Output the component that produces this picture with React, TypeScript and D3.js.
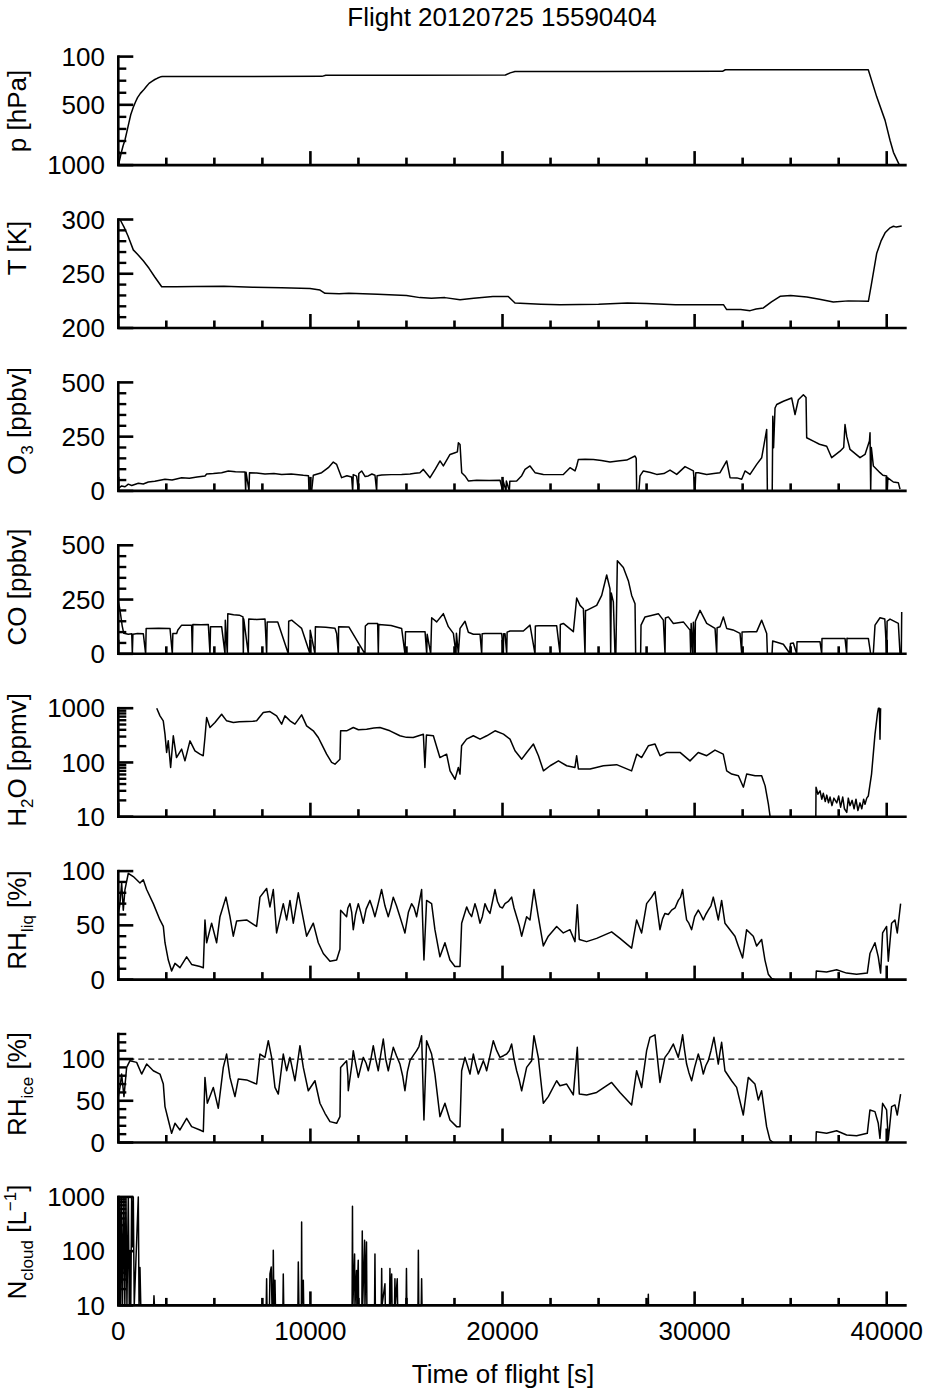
import React from 'react';
import * as d3 from 'd3';

type Pt = [number, number | null];

const W = 929;
const H = 1393;
const X_LEFT = 118.3;
const X_RIGHT = 906.7;
const T_MAX = 41040;
const FONT = '"Liberation Sans", Arial, Helvetica, sans-serif';

const titleText = 'Flight 20120725 15590404';
const xLabelText = 'Time of flight [s]';
const xMajorTicks = [0, 10000, 20000, 30000, 40000];
const xMinorTicks = [2500, 5000, 7500, 12500, 15000, 17500, 22500, 25000, 27500, 32500, 35000, 37500];

// ---- series (time [s], value) ----
const pressure: Pt[] = [
  [0, 1000], [80, 950], [150, 900], [250, 840], [350, 790], [450, 720], [550, 650], [650, 580], [780, 520],
  [900, 475], [1000, 440], [1150, 405], [1300, 380], [1450, 350], [1600, 322], [1750, 305], [1900, 290],
  [2050, 278], [2200, 268], [2300, 265], [6000, 265], [10600, 264], [10800, 255], [15000, 254], [20150, 253],
  [20400, 235], [20650, 224], [25000, 223], [31450, 222], [31600, 209], [39040, 209], [39480, 434],
  [39915, 629], [40175, 796], [40350, 894], [40660, 1000],
];

const temperature: Pt[] = [
  [0, 300], [90, 300], [300, 293], [500, 285], [780, 272], [1000, 268], [1300, 262], [1600, 255], [1900, 247],
  [2260, 238], [3000, 238], [4000, 238.2], [5500, 238.5], [7000, 237.5], [8500, 237], [9980, 236.5],
  [10500, 235], [10760, 232], [11500, 231.5], [12000, 232], [13500, 231], [15000, 230], [15700, 228],
  [16300, 227.5], [17000, 228], [17790, 226], [18500, 227.5], [19500, 229], [20300, 229], [20650, 223],
  [22000, 222], [23000, 221.5], [25000, 222], [26500, 223], [27500, 222.5], [29000, 221.5], [31500, 221.5],
  [31670, 217], [32400, 217], [32890, 216], [33200, 217.5], [33580, 218.5], [34000, 224], [34450, 229.2],
  [35000, 230], [35840, 228.6], [36500, 226.5], [37220, 224], [38000, 225], [39045, 224.6], [39200, 240],
  [39480, 269], [39700, 280], [39915, 287.7], [40150, 292], [40350, 293.8], [40500, 293], [40780, 294],
];

const ozone: Pt[] = [
  [0, 12], [175, 23], [350, 19], [522, 31], [700, 25], [1043, 35], [1300, 32], [1563, 41], [1900, 44],
  [2430, 54], [2800, 50], [3298, 61], [3700, 58], [4100, 64], [4513, 69], [4599, 78], [4950, 80], [5380, 84],
  [5727, 92], [6100, 88], [6595, 87], [6629, 0], [6650, 86], [6803, 0], [6830, 84], [7200, 82], [7636, 78],
  [8100, 80], [8503, 76], [9000, 78], [9631, 72], [9900, 70], [9926, 0], [10000, 0], [10064, 0], [10151, 72],
  [10585, 84], [10932, 107], [11192, 133], [11366, 122], [11626, 61], [11900, 70], [12147, 64], [12199, 0],
  [12230, 75], [12406, 68], [12494, 0], [12520, 80], [12667, 92], [12850, 66], [13014, 69], [13200, 78],
  [13361, 72], [13448, 0], [13470, 70], [13708, 73], [14200, 75], [14749, 76], [15186, 78], [15443, 81],
  [15700, 84], [15880, 99], [16227, 61], [16500, 100], [16748, 138], [16921, 115], [17268, 168], [17528, 176],
  [17650, 180], [17702, 222], [17789, 214], [17876, 84], [18049, 69], [18222, 46], [18656, 49], [19300, 48],
  [19871, 49], [20010, 0], [20030, 47], [20183, 0], [20200, 46], [20356, 0], [20380, 44], [20738, 46],
  [21000, 70], [21172, 99], [21432, 115], [21692, 84], [22126, 76], [22600, 75], [23167, 76], [23514, 107],
  [23774, 92], [23861, 115], [23948, 145], [24300, 146], [24729, 145], [25150, 140], [25596, 133],
  [26000, 138], [26464, 142], [26898, 161], [26960, 150], [26984, 0], [27100, 0], [27158, 69], [27331, 92],
  [27700, 85], [28025, 76], [28400, 80], [28719, 96], [29068, 76], [29501, 112], [29935, 92], [30022, 0],
  [30060, 84], [30195, 84], [30629, 76], [31000, 80], [31323, 84], [31670, 138], [31844, 61], [32200, 60],
  [32451, 54], [32624, 92], [32884, 76], [33232, 122], [33492, 153], [33752, 283], [33787, 0], [34040, 0],
  [34070, 344], [34110, 199], [34186, 382], [34273, 398], [34620, 413], [35053, 428], [35227, 352],
  [35400, 420], [35661, 443], [35800, 430], [35834, 245], [36181, 229], [36500, 215], [36875, 206],
  [37135, 153], [37569, 183], [37760, 200], [37829, 306], [37920, 250], [38090, 191], [38610, 153],
  [38870, 168], [39100, 230], [39131, 268], [39165, 0], [39200, 200], [39304, 115], [39651, 84], [39800, 72],
  [39998, 69], [40030, 0], [40060, 60], [40345, 41], [40605, 38], [40692, 8],
];

const carbonMonoxide: Pt[] = [
  [0, 240], [60, 215], [130, 175], [200, 130], [280, 95], [349, 94], [522, 90], [700, 92], [730, 0], [760, 90],
  [1000, 94], [1303, 92], [1424, 0], [1450, 117], [1563, 117], [2100, 118], [2691, 117], [2812, 0], [2840, 94],
  [3038, 94], [3100, 110], [3298, 132], [3818, 132], [3853, 0], [3880, 135], [4300, 134], [4686, 135],
  [4773, 0], [4800, 125], [5380, 125], [5554, 0], [5570, 155], [5675, 0], [5700, 185], [6000, 180],
  [6300, 178], [6490, 170], [6508, 0], [6530, 160], [6768, 0], [6790, 160], [7200, 158], [7636, 160],
  [7722, 0], [7750, 147], [8300, 147], [8850, 0], [8870, 150], [9024, 155], [9300, 135], [9544, 117],
  [9978, 0], [9990, 109], [10238, 0], [10260, 125], [10800, 122], [11279, 118], [11366, 94], [11453, 0],
  [11470, 125], [12000, 124], [12840, 0], [12860, 128], [13014, 140], [13500, 140], [13535, 0], [13560, 135],
  [14200, 130], [14749, 117], [14923, 0], [14950, 102], [15443, 102], [15967, 102], [16054, 0], [16080, 90],
  [16262, 0], [16314, 166], [16574, 147], [16921, 185], [17181, 125], [17442, 94], [17580, 0], [17600, 95],
  [17702, 0], [17789, 117], [18049, 150], [18222, 99], [18483, 90], [18830, 90], [18916, 0], [18940, 92],
  [19090, 94], [19957, 94], [20044, 0], [20060, 92], [20131, 92], [20218, 0], [20240, 100], [20391, 105],
  [21085, 105], [21432, 132], [21692, 0], [21710, 128], [21866, 129], [22820, 129], [22994, 0], [23010, 135],
  [23167, 140], [23688, 102], [23861, 257], [24035, 223], [24209, 208], [24295, 0], [24320, 200],
  [24382, 200], [24902, 223], [25163, 269], [25423, 363], [25596, 299], [25631, 0], [25660, 280],
  [25770, 239], [25856, 0], [25900, 0], [25978, 429], [26290, 398], [26550, 337], [26724, 269], [26898, 231],
  [26932, 0], [27190, 0], [27210, 132], [27418, 170], [27800, 178], [28112, 185], [28372, 155], [28459, 0],
  [28480, 165], [28633, 170], [28894, 140], [29415, 147], [29762, 109], [29796, 0], [29820, 140],
  [29900, 0], [29935, 145], [30022, 0], [30040, 150], [30282, 200], [30629, 140], [31063, 117], [31150, 0],
  [31170, 120], [31323, 125], [31497, 170], [31670, 117], [32000, 110], [32364, 94], [32451, 0], [32470, 100],
  [32885, 102], [33232, 102], [33492, 155], [33752, 94], [33787, 0], [34030, 0], [34064, 59], [34620, 44],
  [34967, 0], [34990, 48], [35140, 50], [35314, 0], [35330, 56], [35487, 56], [36528, 56], [36615, 0],
  [36630, 70], [36702, 71], [37829, 71], [37916, 0], [37930, 72], [38003, 71], [39044, 71], [39165, 0],
  [39300, 0], [39391, 132], [39651, 166], [39900, 160], [39998, 0], [40020, 150], [40172, 160], [40605, 140],
  [40692, 0], [40760, 0], [40780, 193],
];

const water: Pt[] = [
  [2000, 1000], [2170, 722], [2340, 585], [2430, 332], [2516, 153], [2600, 250], [2724, 81], [2863, 310],
  [3030, 123], [3297, 176], [3470, 107], [3731, 250], [3990, 164], [4251, 142], [4420, 133], [4511, 288],
  [4598, 674], [4772, 441], [5032, 545], [5379, 775], [5639, 585], [5986, 545], [6300, 560], [6680, 568],
  [7000, 575], [7200, 585], [7547, 832], [7894, 868], [8241, 722], [8502, 508], [8675, 722], [8936, 585],
  [9196, 508], [9543, 754], [9803, 473], [10150, 383], [10410, 288], [10584, 218], [10844, 142],
  [11104, 100], [11278, 93], [11538, 115], [11573, 383], [11885, 383], [12232, 441], [12500, 400],
  [12926, 411], [13300, 430], [13620, 441], [14140, 383], [14660, 310], [15000, 290], [15350, 288],
  [15880, 332], [15960, 81], [16040, 320], [16400, 310], [16740, 123], [17090, 142], [17270, 70],
  [17530, 49], [17700, 81], [17786, 61], [17870, 203], [18130, 269], [18480, 310], [18830, 269],
  [19180, 310], [19610, 383], [20050, 332], [20390, 269], [20650, 164], [21000, 115], [21260, 153],
  [21610, 218], [21870, 133], [22130, 70], [22480, 87], [22910, 107], [23340, 87], [23770, 81], [23860, 133],
  [23950, 76], [24560, 76], [25250, 87], [25940, 91], [26720, 70], [26990, 142], [27240, 123], [27590, 203],
  [27940, 218], [28200, 133], [28550, 153], [29240, 153], [29760, 107], [30190, 153], [30630, 133],
  [31060, 169], [31490, 142], [31670, 70], [31930, 61], [32280, 57], [32540, 35], [32710, 61], [33150, 57],
  [33490, 57], [33670, 37], [33840, 17], [33930, 10], [34000, null],
  [36310, 10], [36320, 35], [36420, 26], [36530, 30], [36620, 21], [36700, 27], [36800, 19], [36880, 25],
  [36970, 18], [37050, 23], [37150, 16], [37250, 22], [37400, 18], [37500, 24], [37600, 15], [37710, 23],
  [37800, 14], [37920, 12], [38000, 22], [38090, 16], [38200, 20], [38300, 14], [38400, 21], [38500, 13],
  [38610, 18], [38700, 14], [38800, 21], [38870, 17], [38960, 22], [39040, 24], [39210, 61], [39390, 332],
  [39520, 800], [39570, 1000], [39620, 1000], [39650, 269], [39680, 1000],
];

const rhLiquid: Pt[] = [
  [0, 60], [87, 70], [174, 89], [260, 64], [347, 83], [521, 98], [781, 95], [1128, 89], [1300, 92], [1475, 83],
  [1822, 70], [2169, 55], [2343, 49], [2430, 34], [2603, 18], [2776, 8], [2950, 15], [3210, 11], [3557, 21],
  [3817, 14], [4251, 12], [4425, 11], [4511, 55], [4598, 34], [4858, 52], [5119, 34], [5292, 58], [5604, 76],
  [5813, 58], [5986, 40], [6160, 54], [6680, 55], [7200, 49], [7374, 76], [7721, 84], [7894, 67], [8068, 83],
  [8241, 43], [8588, 70], [8762, 55], [8936, 73], [9109, 52], [9370, 80], [9543, 64], [9803, 40], [10150, 52],
  [10410, 34], [10671, 24], [11018, 17], [11365, 18], [11538, 28], [11573, 64], [11885, 58], [11950, 66],
  [12059, 70], [12150, 62], [12232, 46], [12350, 60], [12493, 70], [12620, 62], [12752, 52], [12900, 65],
  [13100, 73], [13230, 66], [13360, 58], [13530, 70], [13706, 83], [13880, 68], [14054, 58], [14180, 66],
  [14314, 76], [14480, 68], [14661, 58], [14800, 50], [14921, 43], [15100, 62], [15268, 70], [15400, 66],
  [15529, 58], [15650, 70], [15789, 83], [15910, 18], [16049, 73], [16309, 70],
  [16482, 46], [16743, 21], [17003, 34], [17264, 18], [17524, 12], [17786, 12], [17873, 52], [18133, 67],
  [18250, 62], [18393, 58], [18567, 70], [18700, 62], [18827, 52], [18950, 58], [19087, 70], [19230, 64],
  [19348, 61], [19480, 72], [19608, 83], [19740, 72], [19868, 67], [20000, 66], [20128, 70], [20300, 72],
  [20475, 76], [20600, 66], [20736, 58], [20870, 50], [20996, 40], [21256, 58], [21430, 55], [21638, 83],
  [21863, 58], [22124, 31],
  [22384, 40], [22818, 49], [23165, 43], [23512, 46], [23772, 35], [23893, 69], [23997, 37], [24379, 35],
  [24900, 38], [25680, 44], [26114, 38], [26721, 29], [26982, 55], [27242, 43], [27502, 70], [27762, 76],
  [27936, 81], [28196, 46], [28330, 56], [28456, 61], [28630, 60], [28803, 64], [28980, 66], [29150, 73],
  [29270, 76], [29376, 83], [29480, 68], [29584, 55], [29700, 52], [29844, 46], [30000, 58], [30191, 64],
  [30320, 60], [30452, 55], [30580, 60], [30712, 64], [30850, 68], [30972, 76], [31100, 66], [31232, 55],
  [31320, 64], [31406, 73], [31579, 52], [31840, 46],
  [32100, 40], [32273, 31], [32499, 20], [32707, 46], [33054, 40], [33228, 31], [33488, 37], [33661, 18],
  [33835, 5], [34008, 1], [34182, 0], [34300, null],
  [36316, 0], [36334, 8], [36871, 7], [37392, 9], [37912, 6], [38433, 5], [38988, 6], [39127, 24],
  [39387, 34], [39560, 21], [39682, 6], [39786, 43], [39994, 49], [40081, 17], [40255, 52], [40428, 55],
  [40549, 43], [40723, 70],
];

const rhIce: Pt[] = [
  [0, 55], [87, 66], [174, 82], [295, 55], [434, 90], [608, 98], [955, 96], [1215, 82], [1475, 94], [1822, 86],
  [2169, 82], [2343, 70], [2430, 43], [2603, 27], [2776, 11], [2950, 23], [3210, 15], [3557, 29], [3817, 19],
  [4251, 15], [4425, 13], [4511, 78], [4633, 47], [4945, 66], [5205, 41], [5466, 90], [5639, 106], [5813, 78],
  [6073, 55], [6246, 76], [6680, 75], [7200, 70], [7374, 106], [7634, 102], [7808, 122], [7981, 102],
  [8155, 66], [8328, 58], [8588, 106], [8762, 86], [8936, 102], [9196, 74], [9456, 116], [9630, 90],
  [9890, 62], [10237, 74], [10497, 47], [10757, 35], [11018, 25], [11365, 23], [11538, 31], [11573, 90],
  [11885, 98], [11950, 80], [11972, 62], [12150, 92], [12232, 110], [12350, 95], [12493, 78], [12620, 90],
  [12752, 102], [12900, 95], [13013, 86], [13150, 100], [13273, 116], [13400, 100], [13533, 86], [13660, 105],
  [13794, 124], [13920, 100], [14054, 86], [14180, 100], [14314, 114], [14480, 104], [14661, 94], [14800, 80],
  [14921, 62], [15050, 85], [15182, 98], [15350, 104], [15529, 110], [15650, 115], [15789, 128],
  [15910, 27], [16049, 122], [16309, 106], [16482, 82], [16743, 31], [17003, 47], [17264, 27], [17610, 19],
  [17786, 19], [17873, 86], [18046, 102], [18180, 92], [18307, 82], [18480, 106], [18600, 94], [18740, 82],
  [18870, 90], [19001, 98], [19100, 92], [19174, 86], [19350, 104], [19521, 122], [19700, 110], [19868, 102],
  [20050, 104], [20215, 106], [20350, 110], [20475, 118], [20600, 100], [20736, 86], [20870, 75], [20996, 62],
  [21256, 90], [21516, 98],
  [21638, 128], [21863, 102], [22124, 47], [22384, 55], [22818, 74], [22991, 68], [23338, 70], [23685, 57],
  [23893, 114], [23997, 58], [24379, 57], [24900, 60], [25680, 72], [26114, 60], [26721, 45], [26982, 86],
  [27242, 66], [27502, 110], [27676, 126], [27936, 129], [28196, 72], [28330, 88], [28456, 102], [28650, 108],
  [28890, 118], [29020, 110], [29150, 102], [29270, 115], [29376, 129], [29480, 110], [29584, 94], [29700, 84],
  [29844, 74], [30000, 90], [30191, 106], [30320, 96], [30452, 82], [30580, 92], [30712, 98], [30850, 110],
  [31007, 126], [31120, 110], [31232, 94], [31320, 108], [31406, 120], [31579, 86], [31926, 74], [32187, 66],
  [32534, 33], [32794, 78], [33141, 70],
  [33315, 51], [33488, 62], [33748, 19], [33922, 3], [34095, 0], [34200, null],
  [36316, 0], [36334, 13], [36871, 11], [37392, 14], [37912, 9], [38433, 8], [38988, 11], [39127, 39],
  [39387, 37], [39560, 23], [39647, 5], [39786, 47], [39994, 39], [40081, 3], [40255, 43], [40428, 45],
  [40549, 33], [40723, 58],
];

const nCloud: Pt[] = [
  [0, 1000], [40, 10], [80, 1000], [120, 10], [174, 1000], [220, 10], [295, 1000], [340, 10], [399, 1000],
  [450, 10], [521, 1000], [570, 10], [608, 100], [650, 10], [694, 1000], [740, 120], [781, 1000], [830, 10],
  [1041, 1000], [1080, 10], [1128, 50], [1170, 10], [1840, 10], [1857, 15], [1880, 10], [7700, 10],
  [7721, 31], [7740, 10], [7870, 10], [7894, 38], [7960, 51], [8000, 10], [8050, 10], [8068, 104], [8100, 10],
  [8155, 29], [8180, 10], [8570, 10], [8588, 38], [8610, 10], [9350, 10], [9370, 63], [9400, 10], [9530, 10],
  [9543, 346], [9560, 10], [9630, 29], [9650, 10], [12170, 10], [12190, 670], [12210, 10], [12300, 89],
  [12320, 10], [12400, 44], [12420, 10], [12490, 68], [12510, 10], [12680, 10], [12700, 236], [12720, 10],
  [12820, 158], [12840, 10], [12920, 147], [12940, 10], [13340, 10], [13360, 89], [13380, 10], [13690, 10],
  [13710, 48], [13730, 10], [13880, 25], [13900, 10], [14120, 10], [14140, 48], [14160, 10], [14230, 38],
  [14250, 10], [14380, 10], [14400, 31], [14420, 10], [14520, 31], [14540, 10], [14980, 10], [15000, 48],
  [15020, 10], [15600, 10], [15620, 104], [15640, 10], [15770, 10], [15790, 31], [15810, 10], [15900, null],
  [27580, 10], [27590, 16], [27600, 10],
];

// ---- y-axis ticks ----
const pMajor = [100, 500, 1000];
const pMinor = [200, 300, 400, 600, 700, 800, 900];
const tMajor = [200, 250, 300];
const tMinor = [210, 220, 230, 240, 260, 270, 280, 290];
const gasMajor = [0, 250, 500];
const gasMinor = [50, 100, 150, 200, 300, 350, 400, 450];
const logMajor = [10, 100, 1000];
const logMinor = [20, 30, 40, 50, 60, 70, 80, 90, 200, 300, 400, 500, 600, 700, 800, 900];
const rhlMajor = [0, 50, 100];
const rhlMinor = [10, 20, 30, 40, 60, 70, 80, 90];
const rhiMajor = [0, 50, 100];
const rhiMinor = [10, 20, 30, 40, 60, 70, 80, 90, 110, 120, 130];

interface PanelDef {
  key: string;
  data: Pt[];
  log?: boolean;
  domain: [number, number];
  major: number[];
  minor: number[];
  labelY: number;
  label: React.ReactNode;
  dashedAt?: number;
}

const SUB = 17;

const panels: PanelDef[] = [
  { key: 'p', data: pressure, domain: [1000, 100], major: pMajor, minor: pMinor, labelY: 111, label: <>p [hPa]</> },
  { key: 'T', data: temperature, domain: [200, 300], major: tMajor, minor: tMinor, labelY: 248, label: <>T [K]</> },
  {
    key: 'O3', data: ozone, domain: [0, 500], major: gasMajor, minor: gasMinor, labelY: 421,
    label: <>O<tspan dy={7} fontSize={SUB}>3</tspan><tspan dy={-7}> [ppbv]</tspan></>,
  },
  { key: 'CO', data: carbonMonoxide, domain: [0, 500], major: gasMajor, minor: gasMinor, labelY: 587, label: <>CO [ppbv]</> },
  {
    key: 'H2O', data: water, log: true, domain: [10, 1000], major: logMajor, minor: logMinor, labelY: 760,
    label: <>H<tspan dy={7} fontSize={SUB}>2</tspan><tspan dy={-7}>O [ppmv]</tspan></>,
  },
  {
    key: 'RHl', data: rhLiquid, domain: [0, 100], major: rhlMajor, minor: rhlMinor, labelY: 920,
    label: <>RH<tspan dy={7} fontSize={SUB}>liq</tspan><tspan dy={-7}> [%]</tspan></>,
  },
  {
    key: 'RHi', data: rhIce, domain: [0, 130], major: rhiMajor, minor: rhiMinor, labelY: 1084, dashedAt: 100,
    label: <>RH<tspan dy={7} fontSize={SUB}>ice</tspan><tspan dy={-7}> [%]</tspan></>,
  },
  {
    key: 'N', data: nCloud, log: true, domain: [10, 1000], major: logMajor, minor: logMinor, labelY: 1242,
    label: <>N<tspan dy={7} fontSize={SUB}>cloud</tspan><tspan dy={-7}> [L</tspan><tspan dy={-10} fontSize={SUB}>−1</tspan><tspan dy={10}>]</tspan></>,
  },
];

const PANEL_TOP0 = 56.6;
const PANEL_STEP = 162.9;
const PANEL_H = 108.5;

const x = d3.scaleLinear().domain([0, T_MAX]).range([X_LEFT, X_RIGHT]);

function Panel({ def, index, last }: { def: PanelDef; index: number; last: boolean }) {
  const top = PANEL_TOP0 + index * PANEL_STEP;
  const bottom = top + PANEL_H;
  const y = (def.log ? d3.scaleLog() : d3.scaleLinear())
    .domain(def.domain)
    .range([bottom, top])
    .clamp(true);
  const sorted = def.data.slice().sort((a, b) => a[0] - b[0]);
  const line = d3
    .line<Pt>()
    .defined((d) => d[1] !== null)
    .x((d) => x(d[0]))
    .y((d) => y(d[1] as number));
  const path = line(sorted) || '';
  const axisW = 2.6;
  return (
    <g>
      <path d={path} fill="none" stroke="#000" strokeWidth={1.5} strokeLinejoin="round" />
      {def.dashedAt !== undefined && (
        <line x1={X_LEFT} x2={X_RIGHT} y1={y(def.dashedAt)} y2={y(def.dashedAt)} stroke="#000" strokeWidth={1.2} strokeDasharray="6,4" />
      )}
      <line x1={X_LEFT - axisW / 2} x2={X_RIGHT} y1={bottom} y2={bottom} stroke="#000" strokeWidth={axisW} />
      {xMajorTicks.map((t) => (
        <line key={'xM' + t} x1={x(t)} x2={x(t)} y1={bottom} y2={bottom - 14} stroke="#000" strokeWidth={2.6} />
      ))}
      {xMinorTicks.map((t) => (
        <line key={'xm' + t} x1={x(t)} x2={x(t)} y1={bottom} y2={bottom - 7.5} stroke="#000" strokeWidth={2.6} />
      ))}
      <line x1={X_LEFT} x2={X_LEFT} y1={top - axisW / 2} y2={bottom} stroke="#000" strokeWidth={axisW} />
      {def.major.map((v) => (
        <line key={'yM' + v} x1={X_LEFT} x2={X_LEFT + 15} y1={y(v)} y2={y(v)} stroke="#000" strokeWidth={2.6} />
      ))}
      {def.minor.map((v) => (
        <line key={'ym' + v} x1={X_LEFT} x2={X_LEFT + 8} y1={y(v)} y2={y(v)} stroke="#000" strokeWidth={2.4} />
      ))}
      {def.major.map((v) => (
        <text key={'yl' + v} x={105} y={y(v)} dy="0.35em" textAnchor="end" fontSize={26} fontFamily={FONT}>
          {v}
        </text>
      ))}
      <text transform={`translate(26,${def.labelY}) rotate(-90)`} textAnchor="middle" fontSize={26} fontFamily={FONT}>
        {def.label}
      </text>
      {last &&
        xMajorTicks.map((t) => (
          <text key={'xl' + t} x={x(t)} y={1340} textAnchor="middle" fontSize={26} fontFamily={FONT}>
            {t}
          </text>
        ))}
    </g>
  );
}

export default function App() {
  return (
    <svg
      width={W}
      height={H}
      viewBox={`0 0 ${W} ${H}`}
      style={{ position: 'absolute', left: 0, top: 0, background: '#fff' }}
    >
      <rect x={0} y={0} width={W} height={H} fill="#fff" />
      <text x={502} y={26} textAnchor="middle" fontSize={26} fontFamily={FONT}>
        {titleText}
      </text>
      {panels.map((p, i) => (
        <Panel key={p.key} def={p} index={i} last={i === panels.length - 1} />
      ))}
      <text x={503} y={1383} textAnchor="middle" fontSize={26} fontFamily={FONT}>
        {xLabelText}
      </text>
    </svg>
  );
}
